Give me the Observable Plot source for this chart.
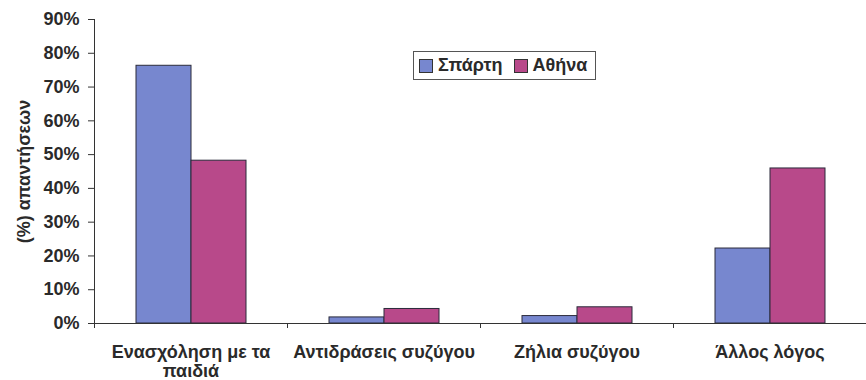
<!DOCTYPE html>
<html>
<head>
<meta charset="utf-8">
<script src="https://cdn.jsdelivr.net/npm/d3@7"></script>
<script src="https://cdn.jsdelivr.net/npm/@observablehq/plot@0.6"></script>
<style>
  html, body { margin: 0; padding: 0; background: #fff; }
  #wrap { position: relative; width: 866px; height: 380px; font-family: "Liberation Sans", Arial, sans-serif; }
  #legend { position: absolute; left: 413px; top: 51px; height: 27px; border: 1px solid #555; background: #fff;
            display: flex; align-items: center; padding: 0 8px 0 5px; font-size: 18px; font-weight: bold; color: #2a2a2a; white-space: nowrap; }
  #legend .sw { display: inline-block; width: 14px; height: 14px; border: 1px solid #333; margin-right: 5px; box-sizing: border-box; }
  #legend .it { display: inline-flex; align-items: center; margin-right: 11px; }
  #legend .it:last-child { margin-right: 0; }
</style>
</head>
<body>
<div id="wrap"></div>
<script>
const categories = ["Ενασχόληση με τα παιδιά", "Αντιδράσεις συζύγου", "Ζήλια συζύγου", "Άλλος λόγος"];
const series = ["Σπάρτη", "Αθήνα"];
const spartiValues = [0.763, 0.018, 0.022, 0.222];
const athinaValues = [0.482, 0.043, 0.048, 0.459];
const colors = ["#7787cf", "#b8498a"];
const yTicks = [0, 0.1, 0.2, 0.3, 0.4, 0.5, 0.6, 0.7, 0.8, 0.9];
const yLabel = "(%) απαντήσεων";

const data = [];
categories.forEach((c, i) => {
  data.push({category: c, series: series[0], value: spartiValues[i]});
  data.push({category: c, series: series[1], value: athinaValues[i]});
});

const wrapLabel = d => d === "Ενασχόληση με τα παιδιά" ? "Ενασχόληση με τα\nπαιδιά" : d;

const chart = Plot.plot({
  width: 866,
  height: 380,
  marginLeft: 94,
  marginRight: 0,
  marginTop: 19,
  marginBottom: 57,
  style: {fontFamily: "'Liberation Sans', Arial, sans-serif", fontSize: "18px", fontWeight: "bold", color: "#2a2a2a", background: "#fff"},
  fx: {domain: categories, padding: 0},
  x: {domain: series, paddingInner: 0, paddingOuter: 0.75, axis: null},
  y: {domain: [0, 0.9]},
  color: {domain: series, range: colors},
  marks: [
    Plot.barY(data, {fx: "category", x: "series", y: "value", fill: "series", stroke: "#2b2b3b", strokeWidth: 1}),
    Plot.ruleY([0], {stroke: "#333", strokeWidth: 1}),
    Plot.frame({anchor: "left", facetAnchor: "left", stroke: "#333"}),
    Plot.axisY({ticks: yTicks, tickFormat: d3.format(".0%"), tickSize: 6, tickPadding: 9, stroke: "#333",
                label: yLabel, labelAnchor: "center", labelArrow: "none", labelOffset: 77}),
    Plot.axisFx({anchor: "bottom", tickSize: 0, tickPadding: 20, tickFormat: wrapLabel, label: null, lineHeight: 1.1})
  ]
});

document.getElementById("wrap").appendChild(chart);

// boundary ticks on the category axis, positioned from the fx and y scales
const fx = chart.scale("fx");
const y = chart.scale("y");
const y0 = y.apply(0);
const bounds = categories.map(c => fx.apply(c)).concat([fx.apply(categories[categories.length - 1]) + fx.bandwidth]);
d3.select(chart).append("g").attr("stroke", "#333")
  .selectAll("line").data(bounds).join("line")
  .attr("x1", d => d + 0.5).attr("x2", d => d + 0.5)
  .attr("y1", y0).attr("y2", y0 + 5);

// legend
const legend = document.createElement("div");
legend.id = "legend";
series.forEach((s, i) => {
  const it = document.createElement("span");
  it.className = "it";
  const sw = document.createElement("span");
  sw.className = "sw";
  sw.style.background = colors[i];
  it.appendChild(sw);
  it.appendChild(document.createTextNode(s));
  legend.appendChild(it);
});
document.getElementById("wrap").appendChild(legend);
</script>
</body>
</html>
